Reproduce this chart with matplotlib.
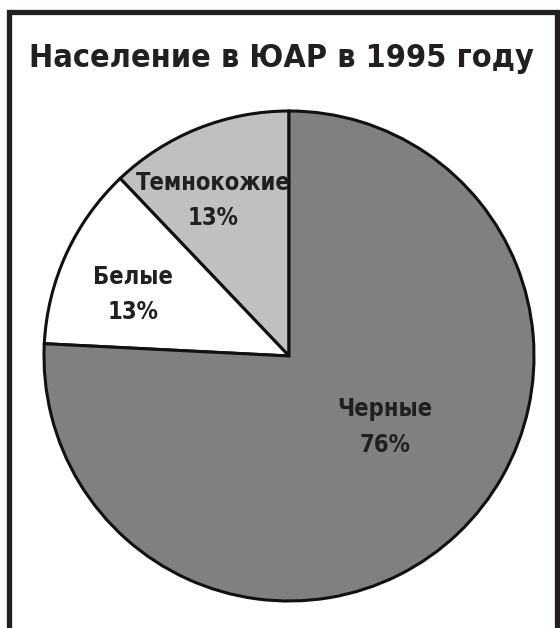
import matplotlib
matplotlib.use("Agg")
import matplotlib.pyplot as plt
from matplotlib.patches import Rectangle

# Data
categories = ["Темнокожие", "Белые", "Черные"]
shares = [12.1, 12.1, 75.8]          # wedge sizes as drawn
pct_labels = ["13%", "13%", "76%"]   # printed labels
title = "Население в ЮАР в 1995 году"

colors = ["#c0c0c0", "#ffffff", "#808080"]
text_color = "#231f20"
plt.rcParams['font.family'] = ['DejaVu Sans']

W, H = 560, 628
fig = plt.figure(figsize=(W / 100, H / 100), dpi=100)
fig.patch.set_facecolor("white")

# frame (open at bottom)
fx0, fx1, fy0 = 8.5, 557, 12
frame = Rectangle((fx0 / W, 1 - (H + 20) / H), (fx1 - fx0) / W, (H + 20 - fy0) / H,
                  transform=fig.transFigure, fill=False, edgecolor="#231f20",
                  linewidth=3.8, clip_on=False)
fig.patches.append(frame)

fig.text(281 / W, 1 - 67.5 / H, title, ha="center", va="baseline",
         fontsize=23.2, fontweight="bold", fontstretch="condensed", color=text_color)

cx, cy, r = 289, 356, 245
ax = fig.add_axes([(cx - r) / W, 1 - (cy + r) / H, 2 * r / W, 2 * r / H])
ax.pie(shares, colors=colors, startangle=90, counterclock=True,
       wedgeprops=dict(edgecolor="#111111", linewidth=2.2))
ax.set_xlim(-1, 1)
ax.set_ylim(-1, 1)
ax.set_aspect("equal")
ax.axis("off")

label_xy = [(-0.311, 0.635), (-0.635, 0.25), (0.393, -0.289)]
for name, pct, (x, y) in zip(categories, pct_labels, label_xy):
    ax.text(x, y, f"{name}\n{pct}", ha="center", va="center", fontsize=17,
            fontweight="bold", fontstretch="condensed", color=text_color,
            linespacing=1.6)

fig.savefig("out.png", dpi=100)
